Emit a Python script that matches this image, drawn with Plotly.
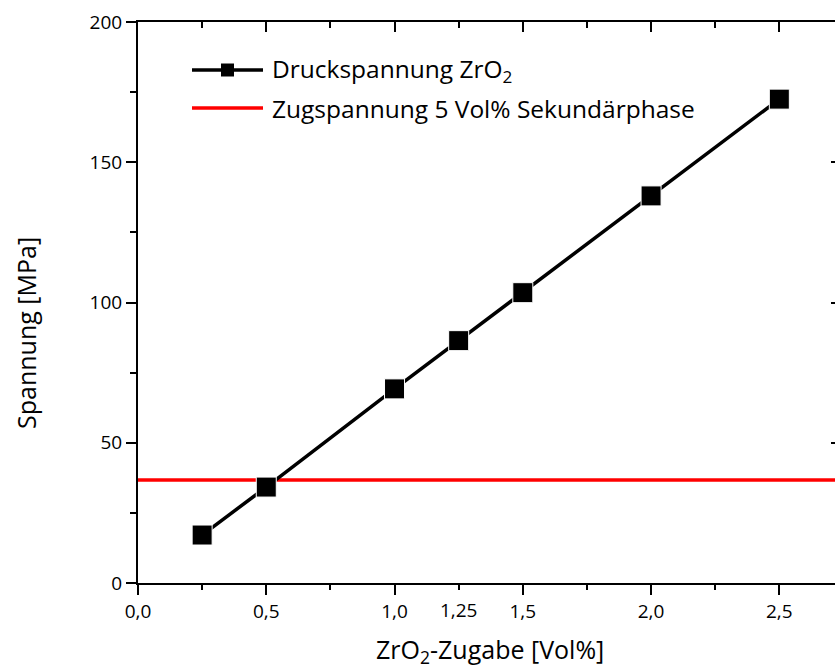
import plotly.graph_objects as go

# ZrO2 addition (vol%) and resulting compressive stress (MPa)
zro2_vol = [0.25, 0.5, 1.0, 1.25, 1.5, 2.0, 2.5]
druckspannung = [17.1, 34.2, 69.2, 86.4, 103.5, 138.0, 172.5]

# tensile stress for 5 vol% secondary phase (MPa)
zugspannung = 36.7

# axis setup
x_range = [0.0, 2.717]
y_range = [0, 200]
x_major = [0.0, 0.5, 1.0, 1.5, 2.0, 2.5]
x_major_text = ["0,0", "0,5", "1,0", "1,5", "2,0", "2,5"]
x_extra = [1.25]
x_extra_text = ["1,25"]
y_major = [0, 50, 100, 150, 200]

name_druck = "Druckspannung ZrO<sub>2</sub>"
name_zug = "Zugspannung 5 Vol% Sekundärphase"
x_title = "ZrO<sub>2</sub>-Zugabe [Vol%]"
y_title = "Spannung [MPa]"

FONT = "Open Sans"
W, H = 835, 668
L, R, T, B = 138, 0, 22, 85
PW, PH = W - L - R, H - T - B


def px(x):
    return (x - L) / PW


def py(y):
    return (H - B - y) / PH


fig = go.Figure()

fig.add_trace(go.Scatter(
    x=[x_range[0], x_range[1]], y=[zugspannung, zugspannung],
    mode="lines", line=dict(color="#ff0000", width=3.5),
    name=name_zug, showlegend=False, cliponaxis=True,
))

fig.add_trace(go.Scatter(
    x=zro2_vol, y=druckspannung, mode="lines+markers",
    line=dict(color="black", width=3.5),
    marker=dict(symbol="square", size=20, color="black",
                line=dict(color="white", width=1)),
    name=name_druck, showlegend=False, cliponaxis=False,
))

axis_common = dict(showgrid=False, zeroline=False, color="black",
                   tickfont=dict(family=FONT, size=19, color="black"))

fig.update_layout(
    width=W, height=H,
    margin=dict(l=L, r=R, t=T, b=B, pad=0),
    paper_bgcolor="white", plot_bgcolor="white",
    font=dict(family=FONT, color="black"),
    showlegend=False,
    xaxis=dict(
        range=x_range, tickmode="array", tickvals=x_major, ticktext=x_major_text,
        ticks="outside", ticklen=10, tickwidth=2, tickcolor="black",
        showline=True, linewidth=2, linecolor="black",
        minor=dict(dtick=0.25, tick0=0, ticks="outside", ticklen=5,
                   tickwidth=2, tickcolor="black"),
        **axis_common,
    ),
    xaxis2=dict(
        range=x_range, overlaying="x", anchor="y", side="top",
        tickmode="array", tickvals=x_major, showticklabels=False,
        ticks="inside", ticklen=10, tickwidth=2, tickcolor="black",
        showline=True, linewidth=2, linecolor="black",
        minor=dict(dtick=0.25, tick0=0, ticks="inside", ticklen=6,
                   tickwidth=2, tickcolor="black"),
        showgrid=False, zeroline=False,
    ),
    xaxis3=dict(
        range=x_range, overlaying="x", anchor="y", side="bottom",
        tickmode="array", tickvals=x_extra, ticktext=x_extra_text,
        ticks="outside", ticklen=10, tickwidth=2,
        tickcolor="rgba(0,0,0,0)", showline=False,
        **axis_common,
    ),
    yaxis=dict(
        range=y_range, tickmode="array", tickvals=y_major,
        ticks="outside", ticklen=10, tickwidth=2, tickcolor="black",
        showline=True, linewidth=2, linecolor="black",
        minor=dict(dtick=25, tick0=0, ticks="outside", ticklen=6,
                   tickwidth=2, tickcolor="black"),
        **axis_common,
    ),
    yaxis2=dict(
        range=y_range, overlaying="y", anchor="x", side="right",
        tickmode="array", tickvals=y_major, showticklabels=False,
        ticks="inside", ticklen=4, tickwidth=2, tickcolor="black",
        showline=False, showgrid=False, zeroline=False,
    ),
)

# empty traces so the overlay axes are drawn
fig.add_trace(go.Scatter(x=[None], y=[None], xaxis="x2", yaxis="y2",
                         showlegend=False, hoverinfo="skip"))
fig.add_trace(go.Scatter(x=[None], y=[None], xaxis="x3", yaxis="y",
                         showlegend=False, hoverinfo="skip"))

# axis titles
fig.add_annotation(text=x_title, xref="paper", yref="paper",
                   x=px(490), y=py(651), xanchor="center", yanchor="middle",
                   showarrow=False, font=dict(family=FONT, size=25, color="black"))
fig.add_annotation(text=y_title, xref="paper", yref="paper",
                   x=px(26), y=py(333), xanchor="center", yanchor="middle",
                   textangle=-90, showarrow=False,
                   font=dict(family=FONT, size=25, color="black"))

# legend: samples and labels
leg_x0, leg_x1, leg_txt = 192, 263, 270
rows = [(70, name_druck, "black", True), (108, name_zug, "#ff0000", False)]
for yy, label, col, with_marker in rows:
    fig.add_shape(type="line", xref="paper", yref="paper",
                  x0=px(leg_x0), x1=px(leg_x1), y0=py(yy), y1=py(yy),
                  line=dict(color=col, width=3.5))
    if with_marker:
        c = (leg_x0 + leg_x1) / 2
        fig.add_shape(type="rect", xref="paper", yref="paper",
                      x0=px(c - 6.5), x1=px(c + 6.5), y0=py(yy - 6.5), y1=py(yy + 6.5),
                      fillcolor="black", line=dict(width=0))
    fig.add_annotation(text=label, xref="paper", yref="paper",
                       x=px(leg_txt), y=py(yy), xanchor="left", yanchor="middle",
                       showarrow=False, font=dict(family=FONT, size=24.5, color="black"))

fig.write_html("out.html")
